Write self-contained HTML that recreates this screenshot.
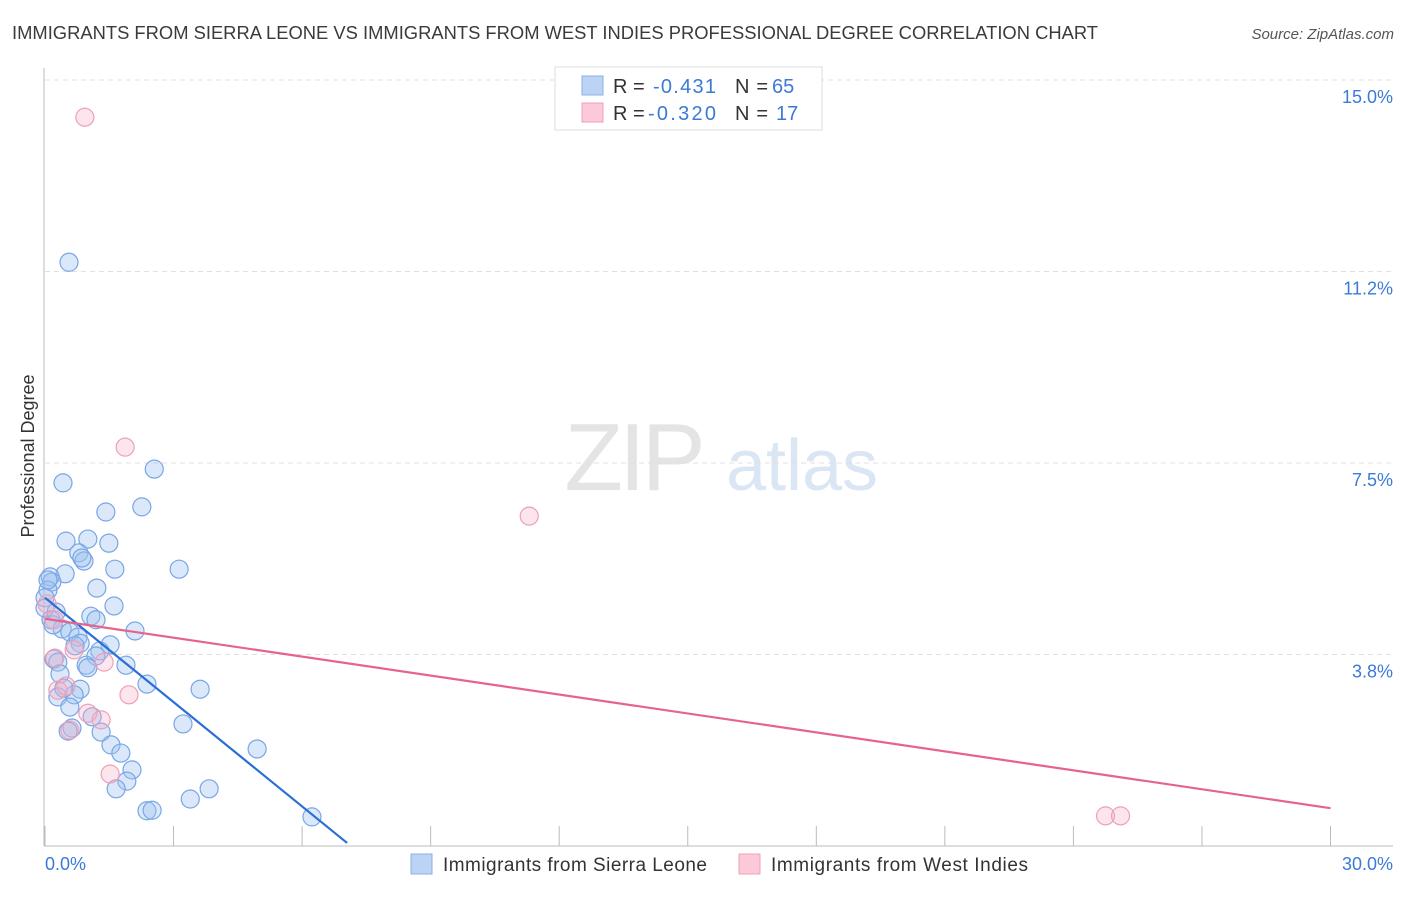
<!DOCTYPE html>
<html><head><meta charset="utf-8"><style>
body{margin:0;background:#fff;font-family:"Liberation Sans",sans-serif;}
svg text{font-family:"Liberation Sans",sans-serif;}
</style></head><body>
<svg id="chart" width="1406" height="892" viewBox="0 0 1406 892" xmlns="http://www.w3.org/2000/svg">
<text x="12" y="39" font-size="18" fill="#3a3a3a" textLength="1086" lengthAdjust="spacingAndGlyphs">IMMIGRANTS FROM SIERRA LEONE VS IMMIGRANTS FROM WEST INDIES PROFESSIONAL DEGREE CORRELATION CHART</text>
<text x="1394" y="39" font-size="15" fill="#555" text-anchor="end" font-style="italic">Source: ZipAtlas.com</text>
<text transform="translate(34,456) rotate(-90)" font-size="18" fill="#333" text-anchor="middle">Professional Degree</text>
<g>
<text x="633" y="490" font-size="96" fill="#e4e4e4" text-anchor="middle" font-family="Liberation Serif" letter-spacing="-4">ZIP</text>
<text x="802" y="490" font-size="72" fill="#dbe6f5" text-anchor="middle">atlas</text>
</g>
<g id="grid"></g>
<g id="axes"></g>
<g id="points"></g>
<g id="trends"></g>
<g>
<rect x="555" y="67" width="267" height="63" fill="#fff" stroke="#ddd"/>
<rect x="582" y="76" width="21" height="19" fill="#bcd3f5" stroke="#8ab0e6"/>
<rect x="582" y="103" width="21" height="19" fill="#fcc9d8" stroke="#f0a0b8"/>
<text x="613" y="93" font-size="20" fill="#333">R =</text>
<text x="653" y="93" font-size="20" fill="#3b7ad8" textLength="63">-0.431</text>
<text x="735" y="93" font-size="20" fill="#333" textLength="33">N =</text>
<text x="772" y="93" font-size="20" fill="#3b7ad8">65</text>
<text x="613" y="120" font-size="20" fill="#333">R =</text>
<text x="648" y="120" font-size="20" fill="#3b7ad8" textLength="68">-0.320</text>
<text x="735" y="120" font-size="20" fill="#333" textLength="33">N =</text>
<text x="776" y="120" font-size="20" fill="#3b7ad8">17</text>
</g>
<g>
<rect x="411" y="854" width="21" height="20" fill="#bcd3f5" stroke="#8ab0e6"/>
<text x="443" y="871" font-size="19" fill="#333" textLength="264">Immigrants from Sierra Leone</text>
<rect x="739" y="854" width="21" height="20" fill="#fcc9d8" stroke="#f0a0b8"/>
<text x="771" y="871" font-size="19" fill="#333" textLength="257">Immigrants from West Indies</text>
</g>
</svg>
<script>
const yTicks=[3.8,7.5,11.2,15.0];
const yTickVals=[3.75,7.5,11.25,15.0];
const xTickVals=[0,3,6,9,12,15,18,21,24,27,30];
const slX=[0.56,0.42,2.55,2.26,1.42,0.49,1.00,1.49,0.79,0.91,0.86,1.63,3.13,0.47,0.12,0.16,0.07,1.21,1.61,1.07,0.14,2.10,0.40,0.58,0.77,0.82,0.70,1.52,1.28,1.19,0.21,0.30,0.96,1.89,0.35,1.00,2.38,3.62,0.82,0.30,0.68,1.10,0.63,3.22,1.31,1.54,1.77,4.95,2.03,1.91,1.66,3.83,3.39,2.38,2.50,6.23,0.00,0.00,0.19,0.44,0.58,0.54,0.07,0.26,1.19];
const slY=[11.43,7.11,7.38,6.64,6.54,5.97,6.01,5.93,5.74,5.58,5.64,5.42,5.42,5.33,5.27,5.17,5.01,5.05,4.70,4.50,4.43,4.21,4.25,4.19,4.09,3.97,3.92,3.94,3.82,3.72,3.66,3.60,3.54,3.54,3.37,3.49,3.17,3.07,3.07,2.92,2.96,2.53,2.31,2.39,2.23,1.98,1.82,1.90,1.49,1.27,1.12,1.12,0.92,0.69,0.70,0.57,4.86,4.66,4.33,3.09,2.72,2.25,5.21,4.58,4.43];
const wiX=[0.93,1.87,11.30,0.05,0.21,0.23,0.68,1.38,0.30,0.49,1.96,1.00,1.31,0.58,1.52,24.75,25.10];
const wiY=[14.27,7.81,6.46,4.74,4.43,3.68,3.84,3.60,3.05,3.13,2.96,2.60,2.47,2.27,1.41,0.59,0.59];
const slTrend=[[0,4.86],[7.05,0.06]];
const wiTrend=[[0,4.45],[30,0.74]];
const NS="http://www.w3.org/2000/svg";
const X=v=>45+v*42.85;
const Y=v=>846-v*51.07;
function mk(tag,attrs,parent){const e=document.createElementNS(NS,tag);for(const k in attrs)e.setAttribute(k,attrs[k]);document.getElementById(parent).appendChild(e);return e;}
yTickVals.forEach((v,i)=>{
 const l=mk('line',{x1:45,x2:1393,y1:Y(v),y2:Y(v),stroke:'#e0e0e0','stroke-dasharray':'5,4'},'grid');
 
 
 const t=mk('text',{x:1393,y:Y(v)+23,'font-size':18,fill:'#3b7ad8','text-anchor':'end'},'grid');
 t.textContent=yTicks[i].toFixed(1)+'%';
 
 
});
const ax=mk('line',{x1:44,x2:44,y1:68,y2:846,stroke:'#bbb'},'axes');


const bx=mk('line',{x1:44,x2:1393,y1:846,y2:846,stroke:'#bbb'},'axes');


xTickVals.forEach(v=>{
 const t=mk('line',{x1:X(v),x2:X(v),y1:826,y2:846,stroke:'#bbb'},'axes');
 
 
});
const x0=mk('text',{x:45,y:870,'font-size':18,fill:'#3b7ad8'},'axes');x0.textContent=xTickVals[0].toFixed(1)+'%';


const x1=mk('text',{x:1393,y:870,'font-size':18,fill:'#3b7ad8','text-anchor':'end'},'axes');x1.textContent=xTickVals[xTickVals.length-1].toFixed(1)+'%';


slX.forEach((v,i)=>{
 const c=mk('circle',{cx:X(v),cy:Y(slY[i]),r:9,fill:'rgba(160,195,240,0.38)',stroke:'#78a6e6','stroke-width':1.2},'points');
 
 
});
wiX.forEach((v,i)=>{
 const c=mk('circle',{cx:X(v),cy:Y(wiY[i]),r:9,fill:'rgba(245,175,198,0.32)',stroke:'#eea0b8','stroke-width':1.2},'points');
 
 
});
const t1=mk('line',{x1:X(slTrend[0][0]),y1:Y(slTrend[0][1]),x2:X(slTrend[1][0]),y2:Y(slTrend[1][1]),stroke:'#2a6fd6','stroke-width':2.2},'trends');


const t2=mk('line',{x1:X(wiTrend[0][0]),y1:Y(wiTrend[0][1]),x2:X(wiTrend[1][0]),y2:Y(wiTrend[1][1]),stroke:'#e5648e','stroke-width':2.2},'trends');


</script>
</body></html>
